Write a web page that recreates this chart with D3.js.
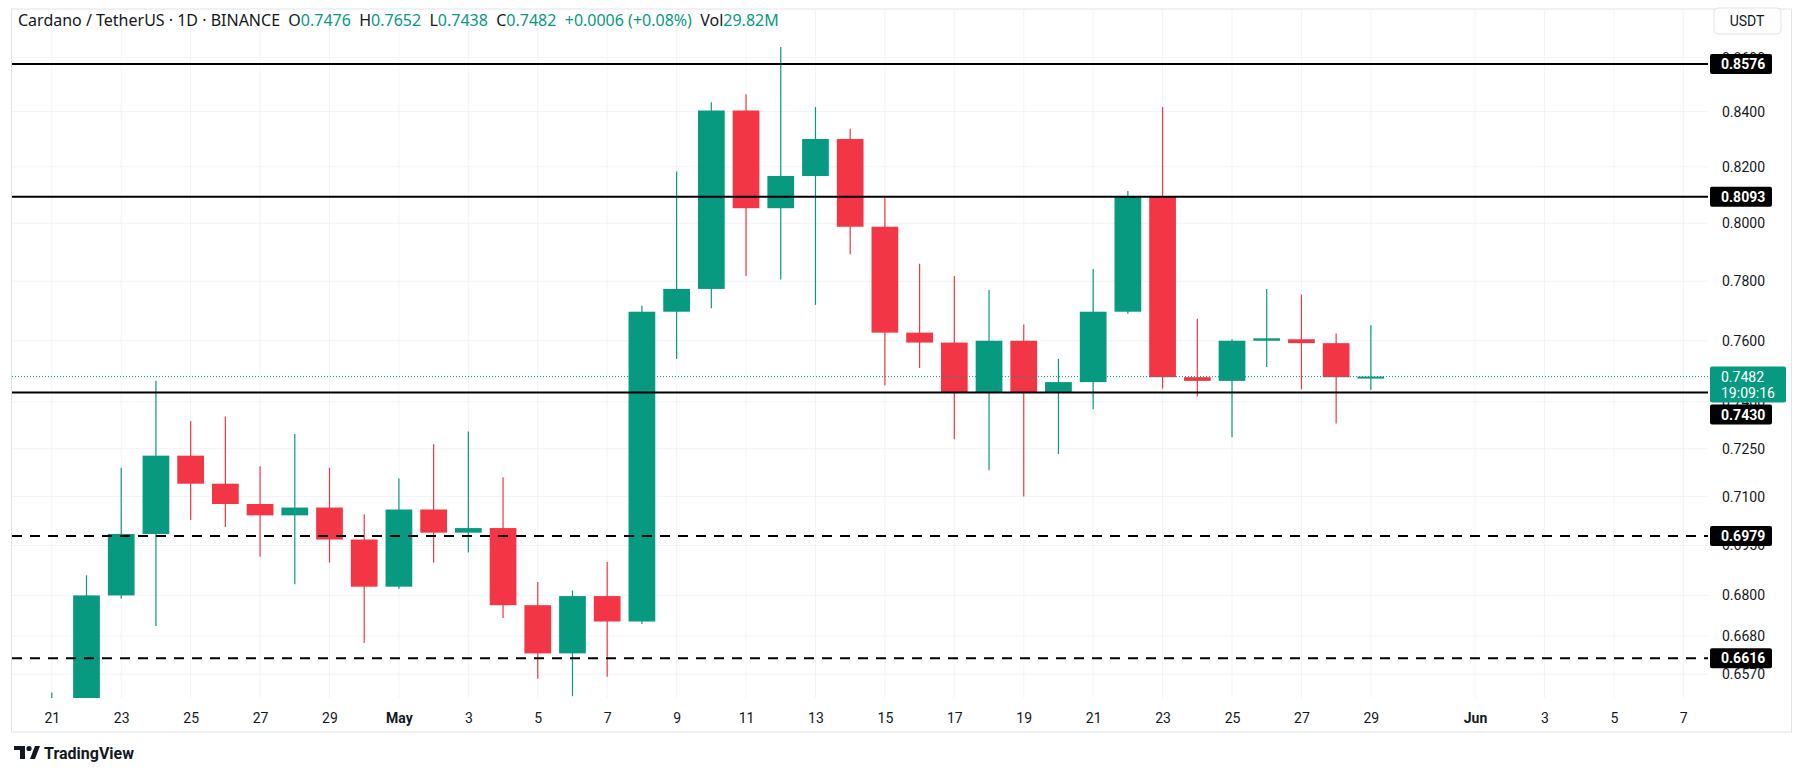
<!DOCTYPE html>
<html>
<head>
<meta charset="utf-8">
<script src="https://cdn.jsdelivr.net/npm/d3@7"></script>
<style>
  body { margin: 0; background: #fff; font-family: "Noto Sans", "DejaVu Sans", sans-serif; }
  svg { display: block; }
</style>
</head>
<body>
<svg id="chart" width="1804" height="776"></svg>
<script>
// Données (jour, ouverture, haut, bas, clôture)
const dates = ["2024-04-21","2024-04-22","2024-04-23","2024-04-24","2024-04-25","2024-04-26","2024-04-27","2024-04-28","2024-04-29","2024-04-30",
  "2024-05-01","2024-05-02","2024-05-03","2024-05-04","2024-05-05","2024-05-06","2024-05-07","2024-05-08","2024-05-09","2024-05-10",
  "2024-05-11","2024-05-12","2024-05-13","2024-05-14","2024-05-15","2024-05-16","2024-05-17","2024-05-18","2024-05-19","2024-05-20",
  "2024-05-21","2024-05-22","2024-05-23","2024-05-24","2024-05-25","2024-05-26","2024-05-27","2024-05-28","2024-05-29"];
const opens  = [0.6495,0.6500,0.6800,0.6985,0.7228,0.7140,0.7077,0.7042,0.7066,0.6968,
  0.6826,0.7060,0.6989,0.7003,0.6771,0.6630,0.6798,0.6723,0.7697,0.7774,
  0.8404,0.8053,0.8167,0.8300,0.7988,0.7627,0.7594,0.7430,0.7600,0.7430,
  0.7464,0.7697,0.8093,0.7480,0.7468,0.7600,0.7605,0.7592,0.7476];
const highs  = [0.6518,0.6860,0.7190,0.7468,0.7338,0.7353,0.7195,0.7297,0.7190,0.7045,
  0.7156,0.7264,0.7305,0.7160,0.6840,0.6815,0.6900,0.7717,0.8183,0.8434,
  0.8464,0.8640,0.8417,0.8337,0.8090,0.7860,0.7818,0.7770,0.7654,0.7540,
  0.7842,0.8114,0.8417,0.7673,0.7605,0.7774,0.7755,0.7624,0.7652];
const lows   = [0.6480,0.6450,0.6790,0.6710,0.7028,0.7006,0.6916,0.6833,0.6898,0.6660,
  0.6820,0.6898,0.6929,0.6733,0.6557,0.6507,0.6563,0.6716,0.7540,0.7709,
  0.7818,0.7806,0.7720,0.7893,0.7453,0.7510,0.7280,0.7182,0.7100,0.7233,
  0.7376,0.7690,0.7443,0.7417,0.7286,0.7513,0.7440,0.7330,0.7438];
const closes = [0.6497,0.6800,0.6985,0.7228,0.7140,0.7077,0.7042,0.7066,0.6968,0.6826,
  0.7060,0.6989,0.7003,0.6771,0.6630,0.6798,0.6723,0.7697,0.7774,0.8404,
  0.8053,0.8167,0.8300,0.7988,0.7627,0.7594,0.7430,0.7600,0.7430,0.7464,
  0.7697,0.8093,0.7480,0.7468,0.7600,0.7608,0.7592,0.7480,0.7482];

// Graduations de l'axe des prix et niveaux tracés
const prixTicks = [0.8600, 0.8400, 0.8200, 0.8000, 0.7800, 0.7600, 0.7400, 0.7250, 0.7100, 0.6950, 0.6800, 0.6680, 0.6570];
const niveauxPleins = [0.8576, 0.8093, 0.7430];
const niveauxTirets = [0.6979, 0.6616];
const dernierPrix = 0.7482;
const compteRebours = "19:09:16";

const bougies = dates.map((d, i) => ({ date: new Date(d + "T00:00:00Z"), o: opens[i], h: highs[i], l: lows[i], c: closes[i] }));

const vert = "#089981", rouge = "#f23645", grille = "#f0f3fa";
const gauche = 12, droite = 1708, haut = 10, bas = 698;

const svg = d3.select("#chart");

// Échelles
const xScale = d3.scaleUtc()
  .domain([new Date("2024-04-21T00:00:00Z"), new Date("2024-06-01T00:00:00Z")])
  .range([51.8, 1475]);
const jour = xScale(new Date("2024-04-22T00:00:00Z")) - xScale(new Date("2024-04-21T00:00:00Z"));

const yScale = d3.scaleLog()
  .domain([0.657, 0.84])
  .range([674.2, 111.6]);

// Cadre
svg.append("rect").attr("x", 11.5).attr("y", 9).attr("width", 1780).attr("height", 723)
  .attr("fill", "none").attr("stroke", "#e0e3eb").attr("stroke-width", 1);

// Grille
const joursTicks = d3.utcDay.range(new Date("2024-04-21T00:00:00Z"), new Date("2024-06-09T00:00:00Z"))
  .filter(d => d.getUTCDate() % 2 === 1 && d.getUTCDate() !== 31);
svg.append("g").selectAll("line").data(joursTicks).enter().append("line")
  .attr("x1", d => xScale(d)).attr("x2", d => xScale(d))
  .attr("y1", haut).attr("y2", bas).attr("stroke", grille);
svg.append("g").selectAll("line").data(prixTicks).enter().append("line")
  .attr("x1", gauche).attr("x2", droite)
  .attr("y1", d => yScale(d)).attr("y2", d => yScale(d)).attr("stroke", grille);

// Axe des dates
const axeX = svg.append("g").attr("transform", `translate(0,${bas})`)
  .call(d3.axisBottom(xScale).tickValues(joursTicks).tickSize(0).tickPadding(15)
    .tickFormat(d => d.getUTCDate() === 1 ? d3.utcFormat("%b")(d) : d.getUTCDate()));
axeX.select(".domain").remove();
axeX.selectAll("text").attr("font-size", 14).attr("fill", "#131722")
  .attr("font-family", "Roboto, sans-serif")
  .attr("font-weight", d => d.getUTCDate() === 1 ? 700 : 400);

// Axe des prix
const axeY = svg.append("g").attr("transform", `translate(${droite},0)`)
  .call(d3.axisRight(yScale).tickValues(prixTicks).tickSize(0).tickPadding(14).tickFormat(d3.format(".4f")));
axeY.select(".domain").remove();
axeY.selectAll("text").attr("font-size", 14).attr("fill", "#131722").attr("font-family", "Roboto, sans-serif");

// Bougies
svg.append("clipPath").attr("id", "zone").append("rect")
  .attr("x", gauche).attr("y", haut).attr("width", droite - gauche).attr("height", bas - haut);
const gB = svg.append("g").attr("clip-path", "url(#zone)");
const largeur = jour * 0.77;

gB.selectAll(".meche").data(bougies).enter().append("line")
  .attr("x1", d => xScale(d.date)).attr("x2", d => xScale(d.date))
  .attr("y1", d => yScale(d.h)).attr("y2", d => yScale(d.l))
  .attr("stroke", d => d.c >= d.o ? vert : rouge).attr("stroke-width", 1.2);
gB.selectAll(".corps").data(bougies).enter().append("rect")
  .attr("x", d => xScale(d.date) - largeur / 2)
  .attr("y", d => yScale(Math.max(d.o, d.c)))
  .attr("width", largeur)
  .attr("height", d => Math.max(2, Math.abs(yScale(d.o) - yScale(d.c))))
  .attr("fill", d => d.c >= d.o ? vert : rouge);

// Ligne du dernier prix
svg.append("line").attr("x1", gauche).attr("x2", droite)
  .attr("y1", yScale(dernierPrix)).attr("y2", yScale(dernierPrix))
  .attr("stroke", vert).attr("stroke-dasharray", "1,2");

// Niveaux horizontaux
niveauxPleins.concat(niveauxTirets).forEach(v => {
  svg.append("line").attr("x1", gauche).attr("x2", droite)
    .attr("y1", yScale(v)).attr("y2", yScale(v))
    .attr("stroke", "#000").attr("stroke-width", 2)
    .attr("stroke-dasharray", niveauxTirets.includes(v) ? "10,8" : null);
});

// Étiquette du dernier prix
const yP = yScale(dernierPrix);
const basVert = yP + 26;
svg.append("rect").attr("x", droite + 2).attr("y", yP - 10).attr("width", 76).attr("height", 36)
  .attr("fill", vert).attr("rx", 2);
svg.append("text").attr("x", droite + 13).attr("y", yP + 5).text(d3.format(".4f")(dernierPrix))
  .attr("fill", "#fff").attr("font-size", 14).attr("font-family", "Roboto, sans-serif");
svg.append("text").attr("x", droite + 13).attr("y", yP + 21).text(compteRebours)
  .attr("fill", "#fff").attr("font-size", 14).attr("font-family", "Roboto, sans-serif");

// Étiquettes des niveaux (décalées sous l'étiquette verte si elles la chevauchent)
niveauxPleins.concat(niveauxTirets).forEach(v => {
  let y = yScale(v);
  if (Math.abs(y - yP) < 36) y = Math.max(y, basVert + 12);
  svg.append("rect").attr("x", droite + 2).attr("y", y - 10).attr("width", 62).attr("height", 20)
    .attr("fill", "#000").attr("rx", 2);
  svg.append("text").attr("x", droite + 13).attr("y", y + 5).text(d3.format(".4f")(v))
    .attr("fill", "#fff").attr("font-size", 14).attr("font-weight", 700).attr("font-family", "Roboto, sans-serif");
});

// Bouton USDT
svg.append("rect").attr("x", 1714).attr("y", 8).attr("width", 67).attr("height", 26)
  .attr("fill", "#fff").attr("stroke", "#e0e3eb").attr("rx", 4);
svg.append("text").attr("x", 1747).attr("y", 26).attr("text-anchor", "middle").text("USDT")
  .attr("font-size", 14).attr("fill", "#131722").attr("font-family", "Roboto, sans-serif");

// En-tête
const entete = svg.append("text").attr("x", 18).attr("y", 26).attr("font-size", 16)
  .attr("font-family", "'Noto Sans', sans-serif").attr("fill", "#131722");
const morceaux = [
  ["Cardano / TetherUS · 1D · BINANCE  ", "#131722"],
  ["O", "#131722"], ["0.7476  ", vert],
  ["H", "#131722"], ["0.7652  ", vert],
  ["L", "#131722"], ["0.7438  ", vert],
  ["C", "#131722"], ["0.7482  +0.0006 (+0.08%)  ", vert],
  ["Vol", "#131722"], ["29.82M", vert]
];
morceaux.forEach(m => entete.append("tspan").attr("fill", m[1]).attr("xml:space", "preserve").text(m[0]));
entete.style("white-space", "pre");

// Logo TradingView
const logo = svg.append("g").attr("transform", "translate(14,746)");
logo.append("path").attr("d", "M0 0 H11 V13 H6 V4 H0 Z").attr("fill", "#131722");
logo.append("circle").attr("cx", 15).attr("cy", 2.5).attr("r", 2.6).attr("fill", "#131722");
logo.append("path").attr("d", "M16 13 L21 0 H26 L21 13 Z").attr("fill", "#131722");
svg.append("text").attr("x", 44).attr("y", 759).text("TradingView")
  .attr("font-size", 16).attr("font-weight", 700).attr("fill", "#131722").attr("font-family", "Roboto, sans-serif");
</script>
</body>
</html>
